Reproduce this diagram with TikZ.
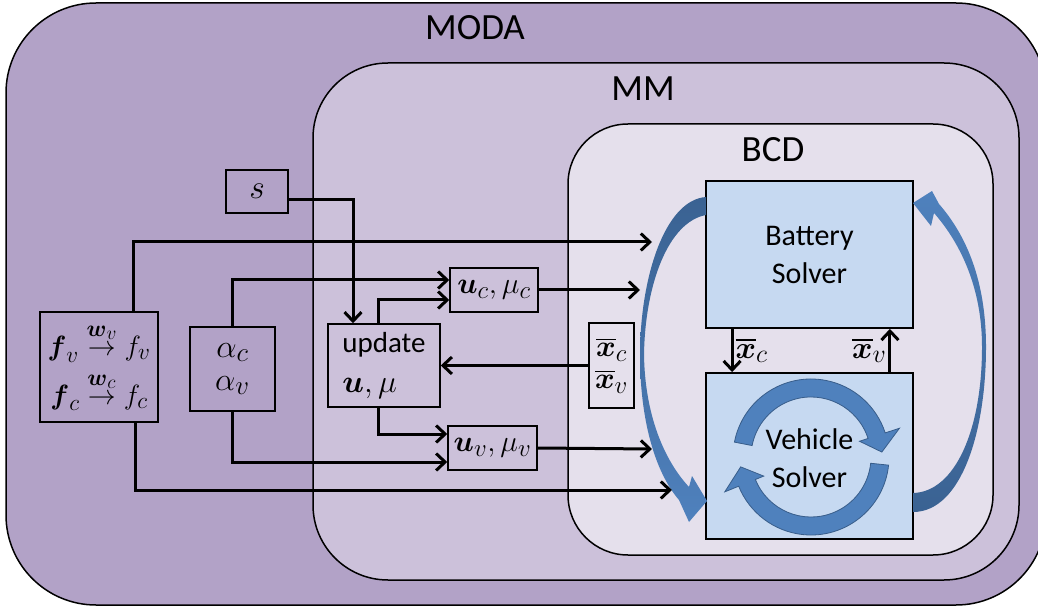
\RequirePackage{fix-cm}
\documentclass[tikz,border=0pt]{standalone}
\usepackage{amsmath}
\usepackage{graphicx}
\usepackage{fontspec}
\setmainfont{Carlito}
\usetikzlibrary{arrows.meta, calc}

\definecolor{modapurple}{RGB}{178, 162, 199}
\definecolor{mmpurple}{RGB}{204, 193, 218}
\definecolor{bcdpurple}{RGB}{229, 224, 236}
\definecolor{solverblue}{RGB}{198, 217, 241}
\definecolor{arrowblue}{RGB}{79, 129, 189}
\definecolor{arrowdark}{RGB}{58, 98, 146}
\definecolor{arrowedge}{RGB}{56, 93, 138}

\newcommand{\mz}[2]{\scalebox{#1}{$#2$}}

\begin{document}
\begin{tikzpicture}[x=1pt, y=-1pt,
  container/.style={draw, line width=1.5pt, rounded corners=#1},
  title/.style={font=\fontsize{37}{40}\selectfont},
  solverbox/.style={draw, line width=1.8pt, fill=solverblue, minimum width=207pt},
  solvertext/.style={align=center, font=\fontsize{30}{38}\selectfont},
  varbox/.style={draw, line width=1.5pt, inner sep=2pt, font=\fontsize{24.88}{30}\selectfont},
  flow/.style={line width=3pt, -{Straight Barb[length=9pt, width=17pt]}},
  loopshape/.style={fill=arrowblue, draw=arrowedge, line width=0.8pt},
]
  \useasboundingbox (0,0) rectangle (1038,609);

  % nested loops
  \node[container=90pt, fill=modapurple, minimum width=1040pt, minimum height=602pt] (moda) at (526,304) {};
  \node[container=75pt, fill=mmpurple, minimum width=706pt, minimum height=517pt] (mm) at (666,321.5) {};
  \node[container=60pt, fill=bcdpurple, minimum width=425pt, minimum height=431pt] (bcd) at (780.5,339.5) {};
  \node[title] (modalabel) at (475,28) {MODA};
  \node[title] (mmlabel) at (643,89) {MM};
  \node[title] (bcdlabel) at (773,150) {BCD};

  % solvers
  \node[solverbox, minimum height=147pt] (battery) at (809.5,254.5) {};
  \node[solvertext] (batterylabel) at (battery) {Battery\\Solver};
  \node[solverbox, minimum height=166pt] (vehicle) at (809.5,456) {};
  \coordinate (spin) at (811,457);
  \foreach \from/\to in {191/342, 6/158}
    \filldraw[loopshape] ($(spin)+(\from:78)$) arc[start angle=\from, end angle=\to, radius=78]
      -- ($(spin)+(\to:93)$) -- ($(spin)+(\to+14:71)$) -- ($(spin)+(\to:51)$) -- ($(spin)+(\to:60)$)
      arc[start angle=\to, end angle=\from, radius=60] -- cycle;
  \node[solvertext] (vehiclelabel) at (809.5,458) {Vehicle\\Solver};

  % outer BCD arrows
  \shade[top color=arrowdark, bottom color=arrowblue]
    (706,197) .. controls (664,200) and (640,280) .. (640,355)
    .. controls (640,420) and (655,472) .. (679,500) -- (689,522) -- (707,501) -- (692,476) -- (689,487)
    .. controls (664,460) and (645,415) .. (644,355)
    .. controls (645,285) and (668,222) .. (706,215) -- cycle;
  \shade[top color=arrowblue, bottom color=arrowdark]
    (913,512) .. controls (962,512) and (986,430) .. (986,347)
    .. controls (986,280) and (966,235) .. (939,204) -- (932,191) -- (913,203) -- (931,226) -- (934,213)
    .. controls (962,245) and (982,290) .. (982,347)
    .. controls (982,430) and (955,492) .. (913,493) -- cycle;

  % variable boxes
  \node[varbox, minimum width=62pt, minimum height=43pt] (seed) at (257,191.5) {\mz{1.35}{s}};
  \node[varbox, minimum width=118pt, minimum height=110pt, align=center] (fmap) at (99,367)
    {\mz{1.12}{\boldsymbol{f}_v \stackrel{\raisebox{3pt}{$\scriptstyle\boldsymbol{w}_v$}}{\rightarrow} f_v}\\[9pt]
     \mz{1.12}{\boldsymbol{f}_c \stackrel{\raisebox{3pt}{$\scriptstyle\boldsymbol{w}_c$}}{\rightarrow} f_c}};
  \node[varbox, minimum width=85pt, minimum height=84pt, align=center] (alpha) at (232.5,369)
    {\mz{1.3}{\alpha_c}\\[3pt] \mz{1.3}{\alpha_v}};
  \node[varbox, minimum width=112pt, minimum height=83pt, align=left, font=\fontsize{29}{40}\selectfont] (update) at (384,365.5)
    {update\\ \mz{1.1}{\boldsymbol{u},\mu}};
  \node[varbox, minimum width=88pt, minimum height=44pt, inner sep=0pt] (uc) at (494,290) {\mz{1.2}{\boldsymbol{u}_c,\mu_c}};
  \node[varbox, minimum width=89pt, minimum height=44pt, inner sep=0pt] (uv) at (492.5,448) {\mz{1.2}{\boldsymbol{u}_v,\mu_v}};
  \node[varbox, minimum width=45pt, minimum height=85pt, inner sep=0pt, align=center] (xbar) at (611.5,365.5)
    {\mz{1.2}{\overline{\boldsymbol{x}}_c}\\[2pt] \mz{1.2}{\overline{\boldsymbol{x}}_v}};

  % free ends at the BCD loop
  \coordinate (fin) at (652,242);
  \coordinate (ucin) at (640,290);
  \coordinate (uvin) at (652,449);
  \coordinate (vin) at (672,490);

  % connectors
  \draw[flow] ([xshift=-25pt]fmap.north east) |- (fin);
  \draw[flow] ([xshift=-23pt]fmap.south east) |- (vin);
  \draw[flow] (alpha.north) |- ([yshift=10pt]uc.west);
  \draw[flow] (alpha.south) |- ([yshift=-14pt]uv.west);
  \draw[flow] ([yshift=-8.5pt]seed.east) -| ([xshift=-31pt]update.north);
  \draw[flow] ([xshift=-6pt]update.north) |- ([yshift=-10pt]uc.west);
  \draw[flow] ([xshift=-6pt]update.south) |- ([yshift=14pt]uv.west);
  \draw[flow] (uc.east) -- (ucin);
  \draw[flow] (uv.east) -- (uvin);
  \draw[flow] (xbar.west) -- (update.east);
  \draw[flow] ([xshift=27pt]battery.south west) -- ([xshift=27pt]vehicle.north west)
    node[midway, right, font=\fontsize{24.88}{30}\selectfont, inner sep=2pt] (xclabel) {\mz{1.25}{\overline{\boldsymbol{x}}_c}};
  \draw[flow] ([xshift=-24pt]vehicle.north east) -- ([xshift=-24pt]battery.south east)
    node[midway, left, font=\fontsize{24.88}{30}\selectfont, inner sep=2pt] (xvlabel) {\mz{1.25}{\overline{\boldsymbol{x}}_v}};
\end{tikzpicture}
\end{document}
